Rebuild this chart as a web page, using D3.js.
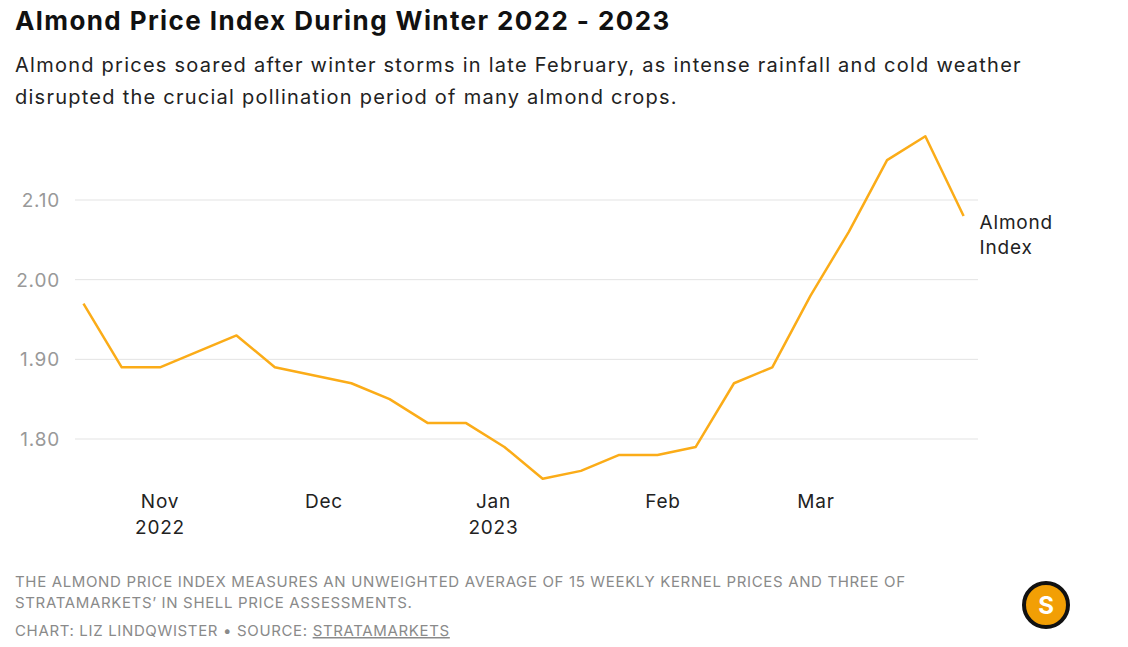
<!DOCTYPE html>
<html><head><meta charset="utf-8">
<script src="https://cdn.jsdelivr.net/npm/d3@7"></script>
<style>
body{margin:0;background:#fff;font-family:Inter,Roboto,sans-serif;}
</style></head><body>
<svg id="chart" width="1128" height="647"></svg>
<script>
// weekly almond index readings
const startDate = new Date(2022, 9, 18);
const values = [1.97, 1.89, 1.89, 1.91, 1.93, 1.89, 1.88, 1.87, 1.85, 1.82, 1.82, 1.79,
  1.75, 1.76, 1.78, 1.78, 1.79, 1.87, 1.89, 1.98, 2.06, 2.15, 2.18, 2.08];
const yTicks = [1.80, 1.90, 2.00, 2.10];
const monthTicks = [
  { date: new Date(2022, 10, 1), label: "Nov", year: "2022" },
  { date: new Date(2022, 11, 1), label: "Dec", year: "" },
  { date: new Date(2023, 0, 1), label: "Jan", year: "2023" },
  { date: new Date(2023, 1, 1), label: "Feb", year: "" },
  { date: new Date(2023, 2, 1), label: "Mar", year: "" }
];

const data = values.map((v, i) => ({ date: d3.timeDay.offset(startDate, i * 7), value: v }));

const svg = d3.select('#chart');

const x = d3.scaleTime()
  .domain([new Date(2022, 10, 1), new Date(2023, 2, 1)])
  .range([160, 816]);
const y = d3.scaleLinear().domain([1.80, 2.10]).range([439, 200]);

// title + subtitle
svg.append('text').attr('x', 15).attr('y', 30)
  .style('font-size', '26px').style('font-weight', 700).style('letter-spacing', '1.4px').attr('fill', '#111')
  .text('Almond Price Index During Winter 2022 - 2023');
const sub = ['Almond prices soared after winter storms in late February, as intense rainfall and cold weather',
  'disrupted the crucial pollination period of many almond crops.'];
sub.forEach((t, i) => svg.append('text').attr('x', 15).attr('y', 72 + i * 32)
  .style('font-size', '20px').style('letter-spacing', '1.25px').attr('fill', '#222').text(t));

// gridlines
const grid = svg.append('g');
grid.selectAll('line').data(yTicks).enter().append('line')
  .attr('x1', 75).attr('x2', 978)
  .attr('y1', d => y(d)).attr('y2', d => y(d))
  .attr('stroke', '#e3e3e3');
grid.selectAll('text').data(yTicks).enter().append('text')
  .attr('x', 60).attr('y', d => y(d) + 7).attr('text-anchor', 'end')
  .style('font-size', '19px').style('letter-spacing', '0.8px').attr('fill', '#999')
  .text(d => d.toFixed(2));

// month labels
const xl = svg.append('g').style('letter-spacing', '0.8px');
xl.selectAll('.m').data(monthTicks).enter().append('text')
  .attr('x', d => x(d.date)).attr('y', 508).attr('text-anchor', 'middle')
  .style('font-size', '19px').attr('fill', '#222').text(d => d.label);
xl.selectAll('.yr').data(monthTicks.filter(d => d.year)).enter().append('text')
  .attr('x', d => x(d.date)).attr('y', 534).attr('text-anchor', 'middle')
  .style('font-size', '19px').attr('fill', '#222').text(d => d.year);

// the line
const line = d3.line().x(d => x(d.date)).y(d => y(d.value));
svg.append('path').datum(data).attr('d', line)
  .attr('fill', 'none').attr('stroke', '#fbac18').attr('stroke-width', 2.5)
  .attr('stroke-linejoin', 'round');

const last = data[data.length - 1];
['Almond', 'Index'].forEach((t, i) => svg.append('text')
  .attr('x', x(last.date) + 16).attr('y', y(last.value) + 13 + i * 25)
  .style('font-size', '19px').style('letter-spacing', '0.8px').attr('fill', '#222').text(t));

// footer
const foot = svg.append('g').style('font-size', '15px').style('letter-spacing', '0.65px').attr('fill', '#8a8a8a');
foot.append('text').attr('x', 15).attr('y', 587).text('THE ALMOND PRICE INDEX MEASURES AN UNWEIGHTED AVERAGE OF 15 WEEKLY KERNEL PRICES AND THREE OF');
foot.append('text').attr('x', 15).attr('y', 608).text('STRATAMARKETS\u2019 IN SHELL PRICE ASSESSMENTS.');
const src = foot.append('text').attr('x', 15).attr('y', 636);
src.append('tspan').text('CHART: LIZ LINDQWISTER \u2022 SOURCE: ');
src.append('tspan').attr('text-decoration', 'underline').text('STRATAMARKETS');

// logo
svg.append('circle').attr('cx', 1046).attr('cy', 605).attr('r', 22)
  .attr('fill', '#f29f05').attr('stroke', '#111').attr('stroke-width', 4);
svg.append('text').attr('x', 1046).attr('y', 614).attr('text-anchor', 'middle')
  .style('font-size', '24px').style('font-weight', 700).attr('fill', '#fff').text('S');
</script>
</body></html>
